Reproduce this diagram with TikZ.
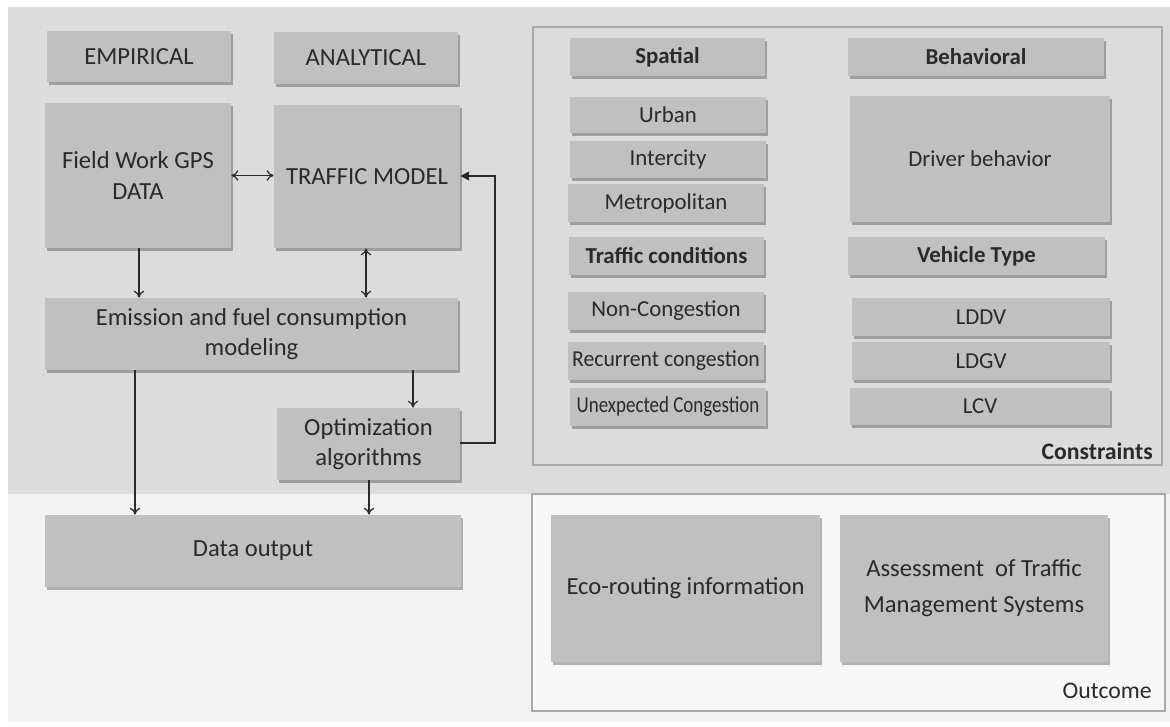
\documentclass[tikz,border=0pt]{standalone}
\usepackage{fontspec}
\setmainfont{Carlito}
\usepackage{graphicx}
\usetikzlibrary{arrows.meta,shadows}

\definecolor{bgtop}{HTML}{DCDCDC}
\definecolor{bgbot}{HTML}{F2F2F2}
\definecolor{boxfill}{HTML}{C0C0C0}
\definecolor{framecol}{HTML}{A8A8A8}
\definecolor{ink}{HTML}{2A2A2A}
\definecolor{outfill}{HTML}{F7F7F7}

\tikzset{
  bx/.style={rectangle, fill=boxfill, draw=none, inner sep=0pt, align=center,
    text=ink, font=\fontsize{13}{16}\selectfont,
    drop shadow={shadow xshift=1.3pt, shadow yshift=-1.6pt, fill=black, opacity=0.28}},
  big/.style={font=\fontsize{14}{17.5}\selectfont},
  hd/.style={font=\fontsize{13}{16}\selectfont\bfseries},
  frame/.style={draw=framecol, line width=0.6pt},
  arr/.style={draw=ink, line width=0.7pt, -{To[length=4pt,width=6pt]}},
  darr/.style={draw=ink, line width=0.7pt, {To[length=4pt,width=6pt]}-{To[length=4pt,width=6pt]}},
  farr/.style={draw=ink, line width=0.9pt, -{Triangle[length=5pt,width=5pt]}},
  tag/.style={text=ink, inner sep=0pt, font=\fontsize{13.5}{16}\selectfont},
}

% box given by its pixel corners: [style]{name}{x1}{y1}{x2}{y2}{text}
\newcommand\pbox[7][]{%
  \node[bx,#1,minimum width={(#5-#3)*0.02cm},minimum height={(#6-#4)*0.02cm}]
    (#2) at ({(#3+#5)/2},{(#4+#6)/2}) {#7};}
\newcommand\narrow[2]{\scalebox{#1}[1]{#2}}

\begin{document}
\begin{tikzpicture}[x=0.02cm,y=-0.02cm]
  \useasboundingbox (0,0) rectangle (1170,727);

  % background bands
  \fill[white] (0,0) rectangle (1170,727);
  \fill[bgtop] (8,7) rectangle (1170,494);
  \fill[bgbot] (8,494) rectangle (1170,722);

  % group frames
  \draw[frame] (533,27) rectangle (1162,465);
  \draw[frame, fill=outfill] (532,494) rectangle (1165,711);
  \node[tag, font=\fontsize{13.5}{16}\selectfont\bfseries, anchor=base east] (constr) at (1153,459) {Constraints};
  \node[tag, anchor=base east] (outc) at (1152,698) {Outcome};

  % modelling chain
  \pbox[big]{emp}{47}{31}{231}{82}{EMPIRICAL}
  \pbox[big]{ana}{274}{32}{458}{84}{ANALYTICAL}
  \pbox[big]{field}{45}{103}{231}{248}{Field Work GPS\\DATA}
  \pbox[big]{traf}{274}{105}{460}{248}{TRAFFIC MODEL}
  \pbox[big]{emis}{45}{298}{458}{370}{Emission and fuel consumption\\modeling}
  \pbox[big]{opt}{277}{408}{460}{480}{Optimization\\algorithms}
  \pbox[big]{dout}{45}{515}{461}{587}{Data output}

  % constraints
  \pbox[hd]{spat}{570}{38}{765}{76}{Spatial}
  \pbox[hd]{behav}{848}{38}{1104}{76}{Behavioral}
  \pbox{urban}{570}{97}{766}{133}{Urban}
  \pbox{inter}{570}{141}{766}{178}{Intercity}
  \pbox{metro}{568}{184}{764}{222}{Metropolitan}
  \pbox{driver}{850}{96}{1110}{222}{Driver behavior}
  \pbox[hd]{tcond}{569}{237}{764}{275}{Traffic conditions}
  \pbox[hd]{vtype}{848}{237}{1105}{275}{Vehicle Type}
  \pbox{noncong}{568}{292}{764}{330}{Non-Congestion}
  \pbox{reccong}{568}{342}{764}{380}{\narrow{0.95}{Recurrent congestion}}
  \pbox{unexp}{570}{388}{766}{426}{\narrow{0.83}{Unexpected Congestion}}
  \pbox{lddv}{852}{298}{1110}{336}{LDDV}
  \pbox{ldgv}{852}{342}{1110}{380}{LDGV}
  \pbox{lcv}{850}{388}{1110}{425}{LCV}

  % outcomes
  \pbox[big]{eco}{551}{515}{820}{662}{Eco-routing information}
  \pbox[big]{assess}{840}{515}{1108}{662}{Assessment\ \ of Traffic\\[3pt]Management Systems}

  % connector columns and bends
  \coordinate (xf) at (139,0);
  \coordinate (xt) at (366,0);
  \coordinate (xe) at (413,0);
  \coordinate (xl) at (135,0);
  \coordinate (xo) at (369,0);
  \coordinate (yo) at (0,443);
  \coordinate (bend1) at (495,443);
  \coordinate (bend2) at (495,176);
  \coordinate (yt) at (0,176);

  % connectors
  \draw[darr] (field.east) -- (traf.west |- field.east);
  \draw[arr] (field.south -| xf) -- (emis.north -| xf);
  \draw[darr] (traf.south -| xt) -- (emis.north -| xt);
  \draw[arr] (emis.south -| xe) -- (opt.north -| xe);
  \draw[arr] (emis.south -| xl) -- (dout.north -| xl);
  \draw[arr] (opt.south -| xo) -- (dout.north -| xo);
  \draw[farr] (opt.east |- yo) -- (bend1) -- (bend2) -- (traf.east |- yt);
\end{tikzpicture}
\end{document}
